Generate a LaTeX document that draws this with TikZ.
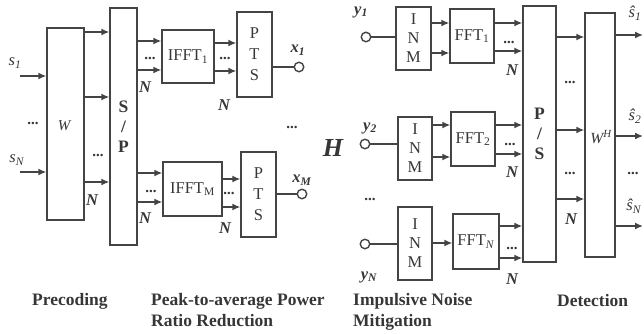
\documentclass[tikz,border=0pt]{standalone}
\usepackage{fontspec}
\setmainfont{Liberation Serif}
\usetikzlibrary{arrows.meta}
\definecolor{lc}{HTML}{444444}
\definecolor{tc}{HTML}{363636}
\newcommand\hatsym[1]{\textit{\^{s}}\textsubscript{\textit{#1}}}
\begin{document}
\begin{tikzpicture}[x=1pt,y=-1pt,
  every node/.style={text=tc, font=\fontsize{16.5}{20}\selectfont},
  blk/.style={draw=lc, line width=1.4pt, inner sep=0pt, align=center},
  arr/.style={draw=lc, line width=1.4pt, -{Latex[length=8pt,width=7pt]}},
  wire/.style={draw=lc, line width=1.4pt},
  term/.style={circle, draw=lc, line width=1.4pt, minimum size=9.5pt, inner sep=0pt},
  nl/.style={font=\fontsize{16.5}{20}\selectfont\bfseries\itshape, inner sep=0pt},
  lbl/.style={inner sep=0pt},
  dts/.style={font=\fontsize{15}{15}\selectfont\bfseries, anchor=base, inner sep=0pt},
  capt/.style={font=\fontsize{17.5}{21}\selectfont\bfseries, align=left, anchor=north west, inner sep=0pt}
]
\useasboundingbox (0,0) rectangle (644,333);

% ---------- blocks ----------
\node[blk, minimum width=37pt, minimum height=192pt] (W) at (65.5,124) {};
\node[lbl, font=\fontsize{15}{18}\selectfont\itshape] (Wl) at (64,126) {W};
\node[blk, minimum width=27pt, minimum height=237pt, font=\fontsize{17.5}{20}\selectfont\bfseries] (SP) at (123.5,126.5) {S\\/\\P};
\node[blk, minimum width=52pt, minimum height=53pt] (IF1) at (188,56.5) {IFFT\textsubscript{1}};
\node[blk, minimum width=59pt, minimum height=54pt] (IFM) at (192.5,189) {IFFT\textsubscript{M}};
\node[blk, minimum width=35pt, minimum height=85pt, font=\fontsize{16.5}{21}\selectfont] (PT1) at (254.5,54.5) {P\\T\\S};
\node[blk, minimum width=35pt, minimum height=85pt, font=\fontsize{16.5}{21}\selectfont] (PTM) at (258.5,194.5) {P\\T\\S};

\node[blk, minimum width=35pt, minimum height=63pt, font=\fontsize{16.5}{19}\selectfont] (IN1) at (413.5,38.5) {I\\N\\M};
\node[blk, minimum width=34pt, minimum height=63pt, font=\fontsize{16.5}{19}\selectfont] (IN2) at (415,148.5) {I\\N\\M};
\node[blk, minimum width=34pt, minimum height=73pt, font=\fontsize{16.5}{19}\selectfont] (INN) at (415,243.5) {I\\N\\M};
\node[blk, minimum width=44pt, minimum height=54pt] (F1) at (472,36) {FFT\textsubscript{1}};
\node[blk, minimum width=44pt, minimum height=54pt] (F2) at (473,139) {FFT\textsubscript{2}};
\node[blk, minimum width=46pt, minimum height=55pt] (FN) at (476,241.5) {FFT\textsubscript{\textit{N}}};
\node[blk, minimum width=33pt, minimum height=256pt, font=\fontsize{17.5}{20}\selectfont\bfseries] (PS) at (539.5,134) {P\\/\\S};
\node[blk, minimum width=30pt, minimum height=244pt] (WH) at (600,135) {};
\node[lbl, font=\fontsize{15.5}{18}\selectfont\itshape] (WHl) at (601,137) {W\textsuperscript{H}};

% ---------- terminals ----------
\node[term] (x1) at (299,67) {};
\node[term] (xM) at (302,194) {};
\node[term] (y1) at (366,37) {};
\node[term] (y2) at (365,144) {};
\node[term] (yN) at (365,244) {};

\coordinate (s1) at (20,76);
\coordinate (sN) at (20,172);
\coordinate (o1) at (643,35);
\coordinate (o2) at (643,136);
\coordinate (oN) at (643,226);

% ---------- connectors ----------
\draw[arr] (s1) -- (W.west |- s1);
\draw[arr] (sN) -- (W.west |- sN);
\foreach \yy in {32,97,182} \draw[arr] (W.east |- 0,\yy) -- (SP.west |- 0,\yy);
\foreach \yy in {41,70} \draw[arr] (SP.east |- 0,\yy) -- (IF1.west |- 0,\yy);
\foreach \yy in {173,202} \draw[arr] (SP.east |- 0,\yy) -- (IFM.west |- 0,\yy);
\foreach \yy in {43,71} \draw[arr] (IF1.east |- 0,\yy) -- (PT1.west |- 0,\yy);
\foreach \yy in {179,207} \draw[arr] (IFM.east |- 0,\yy) -- (PTM.west |- 0,\yy);
\draw[wire] (PT1.east |- x1) -- (x1.west);
\draw[wire] (PTM.east |- xM) -- (xM.west);

\draw[wire] (y1.east) -- (IN1.west |- y1);
\draw[wire] (y2.east) -- (IN2.west |- y2);
\draw[wire] (yN.east) -- (INN.west |- yN);
\foreach \yy in {23,53} \draw[arr] (IN1.east |- 0,\yy) -- (F1.west |- 0,\yy);
\foreach \yy in {125,157} \draw[arr] (IN2.east |- 0,\yy) -- (F2.west |- 0,\yy);
\draw[arr] (INN.east |- 0,243) -- (FN.west |- 0,243);
\foreach \yy in {23,51} \draw[arr] (F1.east |- 0,\yy) -- (PS.west |- 0,\yy);
\foreach \yy in {125,154} \draw[arr] (F2.east |- 0,\yy) -- (PS.west |- 0,\yy);
\foreach \yy in {226,258} \draw[arr] (FN.east |- 0,\yy) -- (PS.west |- 0,\yy);
\foreach \yy in {37,130,199} \draw[arr] (PS.east |- 0,\yy) -- (WH.west |- 0,\yy);
\draw[arr] (WH.east |- o1) -- (o1);
\draw[arr] (WH.east |- o2) -- (o2);
\draw[arr] (WH.east |- oN) -- (oN);

% ---------- labels ----------
\node[lbl] (ls1) at (15,63) {\textit{s}\textsubscript{\textit{1}}};
\node[lbl] (lsN) at (17,160) {\textit{s}\textsubscript{\textit{N}}};
\node[dts] (d1) at (33,124.5) {...};
\node[dts] (d2) at (98,156.5) {...};
\node[nl] (n1) at (92,200) {N};
\node[dts] (d3) at (150,59.5) {...};
\node[nl] (n2) at (145,87) {N};
\node[dts] (d4) at (151,192) {...};
\node[nl] (n3) at (145,218) {N};
\node[dts] (d5) at (225,59.5) {...};
\node[nl] (n4) at (224,105) {N};
\node[dts] (d6) at (229,194.5) {...};
\node[nl] (n5) at (225,228) {N};
\node[lbl, font=\fontsize{16.5}{20}\selectfont\bfseries\itshape] (lx1) at (298,50) {x\textsubscript{1}};
\node[lbl, font=\fontsize{16.5}{20}\selectfont\bfseries\itshape] (lxM) at (302,180) {x\textsubscript{M}};
\node[dts] (d7) at (292,128.5) {...};
\node[lbl, font=\fontsize{26}{30}\selectfont\bfseries\itshape] (H) at (333,148) {H};

\node[lbl, font=\fontsize{16.5}{20}\selectfont\bfseries\itshape] (ly1) at (361,12) {y\textsubscript{1}};
\node[lbl, font=\fontsize{16.5}{20}\selectfont\bfseries\itshape] (ly2) at (370,128) {y\textsubscript{2}};
\node[lbl, font=\fontsize{16.5}{20}\selectfont\bfseries\itshape] (lyN) at (369,277) {y\textsubscript{N}};
\node[dts] (d8) at (370,200.5) {...};
\node[dts] (d9) at (509,43.5) {...};
\node[nl] (n6) at (512,70) {N};
\node[dts] (d10) at (510,145.5) {...};
\node[nl] (n7) at (512,172) {N};
\node[dts] (d11) at (512,249.5) {...};
\node[nl] (n8) at (512,279) {N};
\node[dts] (d12) at (570,83.5) {...};
\node[dts] (d13) at (570,174.5) {...};
\node[nl] (n9) at (571,219) {N};
\node[dts] (d14) at (633,174.5) {...};
\node[lbl] (ls1h) at (635,13) {\hatsym{1}};
\node[lbl] (ls2h) at (635,116) {\hatsym{2}};
\node[lbl] (lsNh) at (634,206) {\hatsym{N}};

% ---------- captions ----------
\node[capt] (c1) at (32,293.5) {Precoding};
\node[capt] (c2) at (151,293.5) {Peak-to-average Power\\Ratio Reduction};
\node[capt] (c3) at (353,293.5) {Impulsive Noise\\Mitigation};
\node[capt] (c4) at (557,294.5) {Detection};
\end{tikzpicture}
\end{document}
